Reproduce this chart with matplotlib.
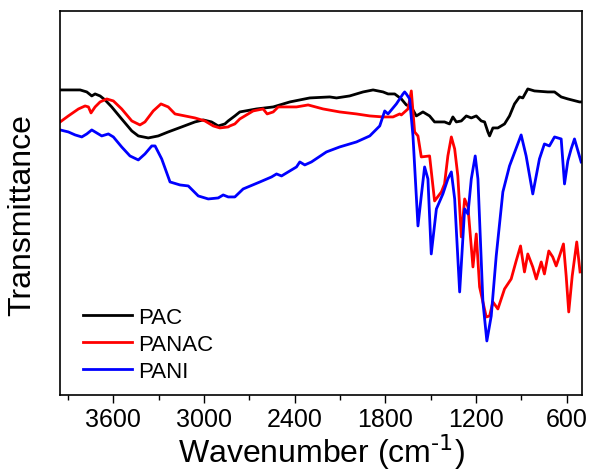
import matplotlib
matplotlib.use("Agg")
import matplotlib.pyplot as plt
from matplotlib.ticker import MultipleLocator

plt.rcParams['font.family'] = ['Liberation Sans', 'DejaVu Sans']
plt.rcParams['axes.unicode_minus'] = False

# FTIR spectra, wavenumber (cm-1) vs transmittance (arbitrary units)
pac_wn = [3952, 3886, 3820, 3776, 3743, 3721, 3688, 3655, 3611, 3545, 3478,
          3435, 3369, 3303, 3237, 3148, 3060, 3005, 2950, 2906, 2862, 2840,
          2796, 2763, 2652, 2542, 2432, 2300, 2168, 2123, 2036, 1947, 1881,
          1815, 1782, 1738, 1694, 1661, 1628, 1595, 1551, 1507, 1474, 1408,
          1375, 1353, 1330, 1297, 1264, 1231, 1198, 1165, 1143, 1121, 1110,
          1088, 1055, 1011, 978, 945, 912, 890, 857, 813, 725, 680, 636, 592,
          515, 504]
pac_t = [309, 309, 309, 307, 303, 305, 303, 299, 292, 280, 268,
         263, 261, 263, 267, 272, 277, 279, 277, 273, 275, 278,
         283, 287, 290, 292, 297, 301, 302, 301, 303, 307, 309,
         307, 305, 305, 300, 294, 292, 283, 287, 283, 277, 277,
         275, 282, 277, 278, 283, 281, 283, 278, 277, 267, 263,
         271, 271, 275, 283, 295, 302, 301, 310, 308, 307, 307, 302, 300,
         297, 297]

panac_wn = [3952, 3898, 3831, 3787, 3765, 3748, 3721, 3688, 3644, 3600, 3545,
            3478, 3424, 3391, 3336, 3285, 3237, 3192, 3126, 3060, 2994, 2939,
            2895, 2840, 2829, 2796, 2763, 2675, 2609, 2582, 2542, 2509, 2388,
            2311, 2212, 2102, 1991, 1903, 1815, 1749, 1705, 1694, 1650, 1628,
            1606, 1584, 1562, 1507, 1474, 1429, 1408, 1386, 1363, 1341, 1320,
            1297, 1275, 1253, 1220, 1198, 1176, 1132, 1110, 1088, 1055, 1011,
            967, 934, 905, 879, 857, 824, 801, 768, 747, 718, 692, 669, 647,
            621, 603, 586, 563, 533, 511]
panac_t = [277, 283, 290, 293, 292, 286, 292, 297, 300, 298, 290,
           278, 274, 277, 288, 295, 292, 285, 283, 281, 278, 273,
           271, 272, 273, 275, 280, 288, 290, 285, 287, 292, 292,
           294, 290, 287, 285, 283, 282, 282, 285, 284, 290, 308,
           267, 263, 242, 243, 198, 207, 215, 243, 262, 250, 223,
           162, 200, 192, 132, 165, 112, 82, 83, 97, 90, 110,
           120, 138, 153, 127, 145, 132, 120, 137, 125, 148, 142, 133, 143,
           155, 123, 87, 123, 157, 127]

pani_wn = [3952, 3898, 3853, 3809, 3776, 3743, 3710, 3677, 3633, 3600, 3545,
           3490, 3435, 3391, 3346, 3324, 3280, 3225, 3159, 3104, 3038, 2972,
           2906, 2873, 2840, 2796, 2741, 2630, 2553, 2520, 2487, 2388, 2366,
           2333, 2289, 2190, 2102, 1991, 1903, 1837, 1804, 1782, 1727, 1683,
           1672, 1661, 1639, 1617, 1584, 1562, 1540, 1518, 1496, 1462, 1419,
           1386, 1363, 1341, 1308, 1275, 1253, 1231, 1205, 1187, 1154, 1128,
           1099, 1066, 1022, 978, 901, 868, 824, 780, 747, 714, 680, 636, 614,
           592, 570, 548, 504]
pani_t = [269, 267, 264, 262, 265, 269, 266, 263, 265, 262, 252,
          243, 239, 245, 253, 253, 240, 217, 214, 213, 203, 200,
          201, 204, 202, 202, 210, 217, 222, 225, 223, 232, 237,
          234, 237, 247, 252, 257, 263, 273, 288, 285, 295, 305,
          307, 305, 300, 263, 173, 203, 232, 220, 145, 190, 205,
          220, 227, 200, 107, 190, 185, 220, 243, 220, 97, 58,
          83, 143, 207, 233, 264, 243, 205, 240, 255, 253, 262, 260, 215,
          238, 250, 260, 237]

fig = plt.figure(figsize=(5.93, 4.77), dpi=100)
ax = fig.add_axes([0.102, 0.1705, 0.879, 0.8045])

ax.plot(pac_wn, pac_t, color="black", lw=2.0, label="PAC")
ax.plot(panac_wn, panac_t, color="#ff0000", lw=2.0, label="PANAC")
ax.plot(pani_wn, pani_t, color="#0000ff", lw=2.0, label="PANI")

ax.set_xlim(3950, 500)
ax.set_ylim(4.3, 388)
ax.xaxis.set_major_locator(MultipleLocator(600))
ax.xaxis.set_minor_locator(MultipleLocator(300))
ax.tick_params(axis="x", which="major", direction="out", length=6, width=1,
               labelsize=18, pad=3)
ax.tick_params(axis="x", which="minor", direction="out", length=3.5, width=1)
ax.set_yticks([])
for s in ax.spines.values():
    s.set_linewidth(1.2)

ax.set_xlabel("Wavenumber (cm$^{\\text{-1}}$)", fontsize=23, labelpad=0)
ax.set_ylabel("Transmittance", fontsize=23)
ax.yaxis.set_label_coords(-0.045, 0.47)

ax.legend(loc="lower left", frameon=False, fontsize=16, handlelength=2.2,
          handletextpad=0.3, labelspacing=0.28, borderaxespad=0.6,
          bbox_to_anchor=(0.0, -0.025))

fig.savefig("out.png", dpi=100)
